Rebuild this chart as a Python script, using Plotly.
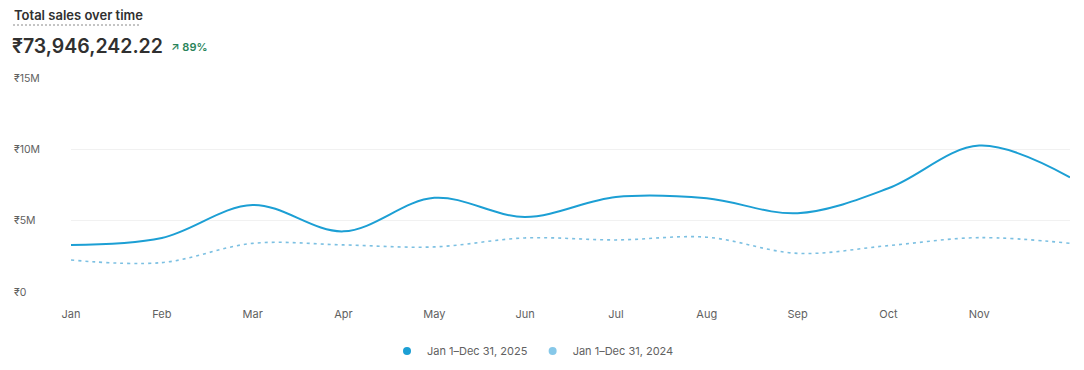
import plotly.graph_objects as go

months = ["Jan", "Feb", "Mar", "Apr", "May", "Jun", "Jul", "Aug", "Sep", "Oct", "Nov", "Dec"]
sales_2025 = [3.30e6, 3.79e6, 6.10e6, 4.25e6, 6.60e6, 5.26e6, 6.66e6, 6.57e6, 5.52e6, 7.27e6, 10.26e6, 8.04e6]
sales_2024 = [2.24e6, 2.06e6, 3.41e6, 3.30e6, 3.16e6, 3.79e6, 3.65e6, 3.84e6, 2.71e6, 3.25e6, 3.81e6, 3.41e6]
y_tick_vals = [0, 5e6, 10e6, 15e6]
y_tick_text = ["₹0", "₹5M", "₹10M", "₹15M"]
series_names = ["Jan 1–Dec 31, 2025", "Jan 1–Dec 31, 2024"]
title_text = "Total sales over time"
total_text = "₹73,946,242.22"
change_text = "↗ 89%"

c2025 = "#1c9fd4"
c2024 = "#86c8e9"
c2024_line = "#7cc0e2"
font_family = "Inter, 'Noto Sans', sans-serif"

W, H = 1084, 370
ML, MR, MT, MB = 71, 14, 78, 78
pw, ph = W - ML - MR, H - MT - MB


def px(x):
    return (x - ML) / pw


def py(y):
    return (H - MB - y) / ph


fig = go.Figure()
fig.add_trace(go.Scatter(x=months, y=sales_2024, mode="lines", showlegend=False,
                         line=dict(color=c2024_line, width=1.6, dash="3px,4px", shape="spline", smoothing=1)))
fig.add_trace(go.Scatter(x=months, y=sales_2025, mode="lines", showlegend=False,
                         line=dict(color=c2025, width=2, shape="spline", smoothing=1)))
# legend entries (dots)
fig.add_trace(go.Scatter(x=[None], y=[None], mode="markers", name=series_names[0],
                         marker=dict(color=c2025, size=8)))
fig.add_trace(go.Scatter(x=[None], y=[None], mode="markers", name=series_names[1],
                         marker=dict(color=c2024, size=8)))

for v, t in zip(y_tick_vals, y_tick_text):
    fig.add_annotation(x=px(12), xref="paper", y=v, yref="y", text=t, showarrow=False,
                       xanchor="left", yanchor="middle",
                       font=dict(size=10.5, color="#616161", family=font_family))

fig.update_layout(
    width=W, height=H,
    margin=dict(l=ML, r=MR, t=MT, b=MB, autoexpand=False),
    paper_bgcolor="white", plot_bgcolor="white",
    font=dict(family=font_family, color="#616161"),
    xaxis=dict(type="category", range=[0, 11], showgrid=False, zeroline=False, showline=False,
               tickvals=months[:-1], ticktext=months[:-1], ticks="",
               tickfont=dict(size=11, color="#616161"), ticklabelstandoff=14),
    yaxis=dict(range=[0, 15e6], tickvals=y_tick_vals, showticklabels=False,
               gridcolor="#f1f1f1", gridwidth=1, zeroline=False, showline=False),
    legend=dict(orientation="h", x=px(533), xanchor="center", y=py(351), yanchor="middle",
                font=dict(size=11, color="#616161"), itemwidth=30),
)

fig.add_annotation(x=px(12), y=py(15), xref="paper", yref="paper", text=title_text, showarrow=False,
                   xanchor="left", yanchor="middle",
                   font=dict(size=13, color="#303030", family=font_family, weight=600))
fig.add_annotation(x=px(10), y=py(46), xref="paper", yref="paper", text=total_text, showarrow=False,
                   xanchor="left", yanchor="middle",
                   font=dict(size=19.5, color="#303030", family=font_family, weight=600))
fig.add_annotation(x=px(169), y=py(47), xref="paper", yref="paper", text=change_text, showarrow=False,
                   xanchor="left", yanchor="middle",
                   font=dict(size=11, color="#29845a", family=font_family, weight=600))
fig.add_shape(type="line", xref="paper", yref="paper", x0=px(13), x1=px(141), y0=py(25), y1=py(25),
              line=dict(color="#8a8a8a", width=1, dash="2px,2px"))

fig.write_html("out.html", config={"displayModeBar": False},
               post_script="document.body.style.margin='0';")
